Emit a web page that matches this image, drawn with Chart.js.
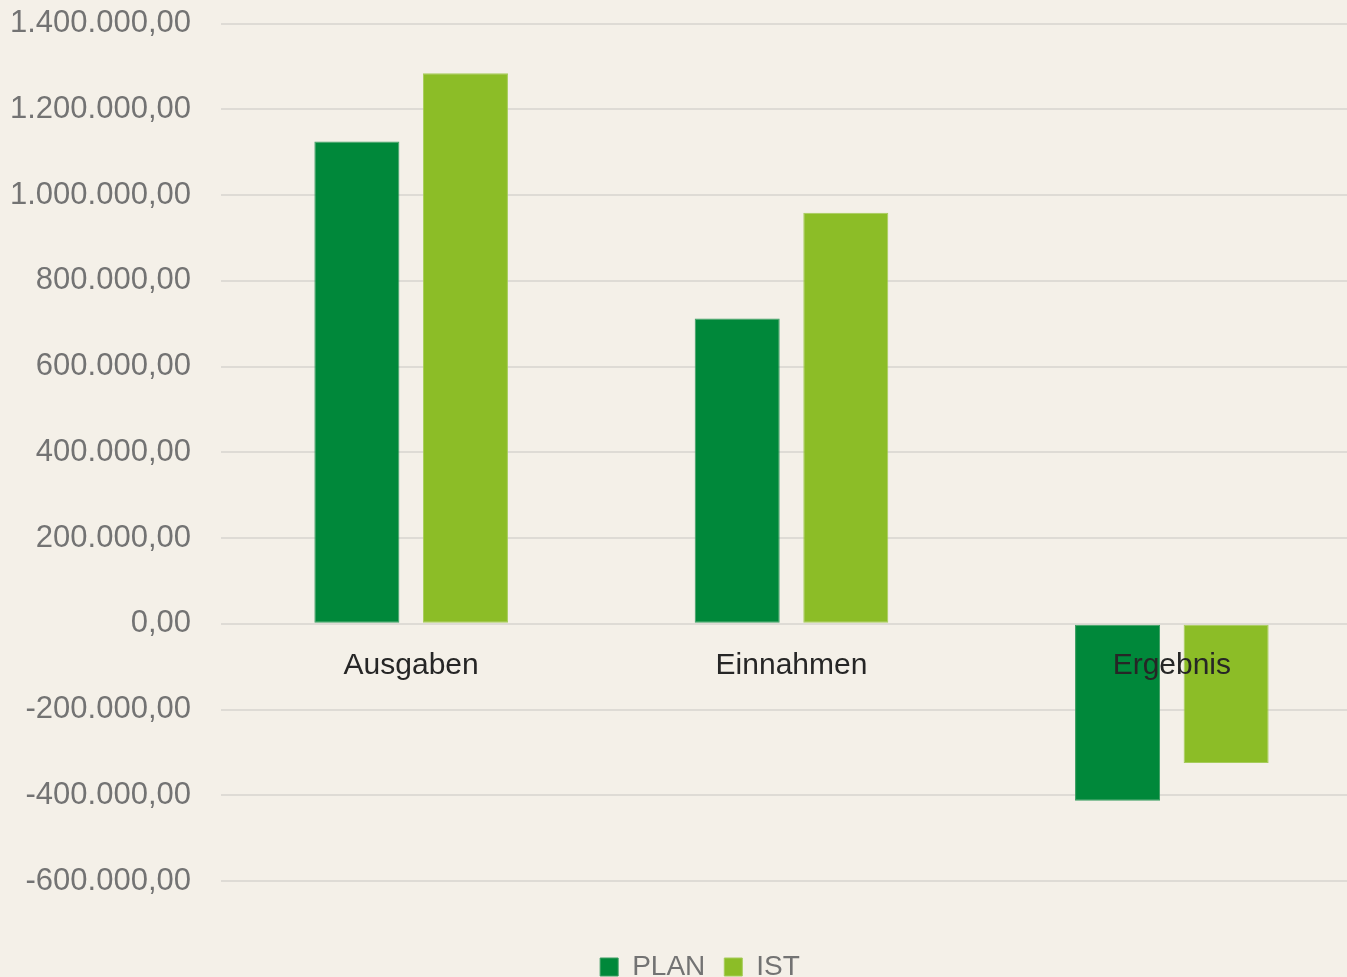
<!DOCTYPE html>
<html>
<head>
<meta charset="utf-8">
<script src="https://cdn.jsdelivr.net/npm/chart.js@4/dist/chart.umd.min.js"></script>
<style>
html,body{margin:0;padding:0;background:#F4F0E8;overflow:hidden;}
#wrap{width:1347px;height:977px;overflow:hidden;position:relative;}
#box{width:1362px;height:1016px;position:absolute;left:0;top:-25px;}
</style>
</head>
<body>
<div id="wrap"><div id="box"><canvas id="c"></canvas></div></div>
<script>
const categories = ['Ausgaben', 'Einnahmen', 'Ergebnis'];
const planValues = [1125000, 712000, -413000];
const istValues = [1284000, 959000, -325000];
const seriesNames = ['PLAN', 'IST'];
const yMin = -600000, yMax = 1400000, yStep = 200000;

function fmt(v){
  const neg = v < 0;
  let a = Math.abs(Math.round(v)).toString();
  a = a.replace(/\B(?=(\d{3})+(?!\d))/g, '.');
  return (neg ? '-' : '') + a + ',00';
}

const FONT = "'Liberation Sans', Arial, sans-serif";

const legendShift = {
  id: 'legendShift',
  afterLayout(chart) {
    if (chart.legend) { chart.legend.left += 19; chart.legend.right += 19; }
  }
};

new Chart(document.getElementById('c'), {
  type: 'bar',
  data: {
    labels: categories,
    datasets: [
      {label: seriesNames[0], data: planValues, backgroundColor: '#00883A', borderColor: '#3C9E62', borderWidth: 1, borderSkipped: false,
       categoryPercentage: 0.571, barPercentage: 0.783, xAxisID: 'x'},
      {label: seriesNames[1], data: istValues, backgroundColor: '#8CBD27', borderColor: '#A6CC5A', borderWidth: 1, borderSkipped: false,
       categoryPercentage: 0.571, barPercentage: 0.783, xAxisID: 'x'}
    ]
  },
  plugins: [legendShift],
  options: {
    responsive: true,
    maintainAspectRatio: false,
    animation: false,
    layout: {padding: {top: 18, left: 0, right: 0, bottom: 0}},
    plugins: {
      legend: {
        position: 'bottom',
        labels: {
          boxWidth: 18, boxHeight: 18, padding: 19,
          color: '#737373',
          font: {family: FONT, size: 28}
        }
      },
      tooltip: {enabled: false}
    },
    scales: {
      x: {
        type: 'category',
        position: {y: 0},
        grid: {display: false, drawTicks: false},
        border: {display: false},
        ticks: {z: 2, color: '#262626', font: {family: FONT, size: 30}, padding: 24, maxRotation: 0}
      },
      x2: {
        type: 'category',
        position: 'bottom',
        labels: categories,
        grid: {display: false, drawTicks: false},
        border: {display: false},
        ticks: {display: false},
        afterFit: (s) => { s.height = 53; }
      },
      y: {
        min: yMin, max: yMax,
        grid: {color: '#DEDBD5', lineWidth: 2, drawTicks: false},
        border: {display: false},
        ticks: {stepSize: yStep, padding: 30, color: '#737373', font: {family: FONT, size: 31}, callback: (v) => fmt(v)},
        afterFit: (s) => { s.width = 221; }
      }
    }
  }
});
</script>
</body>
</html>
